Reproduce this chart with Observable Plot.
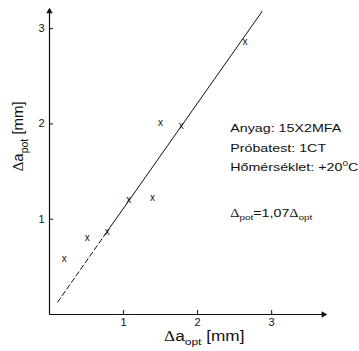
<!DOCTYPE html>
<html>
<head>
<meta charset="utf-8">
<script src="https://cdn.jsdelivr.net/npm/d3@7"></script>
<script src="https://cdn.jsdelivr.net/npm/@observablehq/plot@0.6"></script>
<style>
  html, body { margin: 0; padding: 0; background: white; }
</style>
</head>
<body>
<div id="chart"></div>
<script>
// ---- data ----
const xTicks = [1, 2, 3];
const yTicks = [1, 2, 3];
const aOpt = [0.20, 0.51, 0.78, 1.07, 1.39, 1.50, 1.78, 2.64];   // Δa_opt [mm]
const aPot = [0.58, 0.81, 0.87, 1.20, 1.23, 2.01, 1.98, 2.86];   // Δa_pot [mm]
const fitDashX = [0.11, 0.75];
const fitDashY = [0.13, 0.84];
const fitSolidX = [0.75, 2.87];
const fitSolidY = [0.84, 3.18];
const xMax = 3.7;
const yMax = 3.18;
const xLabel = "Δa_{opt} [mm]";
const yLabel = "Δa_{pot} [mm]";
const infoLines = ["Anyag: 15X2MFA", "Próbatest: 1CT", "Hőmérséklet: +20^{0}C"];
const formula = "Δ_{pot}=1,07Δ_{opt}";

const points = aOpt.map((x, i) => ({x, y: aPot[i]}));
const dash = fitDashX.map((x, i) => ({x, y: fitDashY[i]}));
const solid = fitSolidX.map((x, i) => ({x, y: fitSolidY[i]}));

const W = 359, H = 351, mL = 49, mR = 36, mT = 11, mB = 37;
const pxPerX = (W - mL - mR) / xMax;
const pxPerY = (H - mT - mB) / yMax;
const tickPx = 4;

const chart = Plot.plot({
  width: W,
  height: H,
  marginLeft: mL,
  marginRight: mR,
  marginTop: mT,
  marginBottom: mB,
  style: {fontFamily: "'Liberation Sans', Arial, sans-serif", fontSize: "11px", color: "#111", background: "white"},
  x: {domain: [0, xMax], axis: null},
  y: {domain: [0, yMax], axis: null},
  marks: [
    Plot.ruleY([0], {x1: 0, x2: xMax, stroke: "#111", strokeWidth: 1.2}),
    Plot.ruleX([0], {y1: 0, y2: yMax, stroke: "#111", strokeWidth: 1.2}),
    Plot.ruleX(xTicks, {x: d => d, y1: 0, y2: tickPx / pxPerY, stroke: "#111", strokeWidth: 1}),
    Plot.ruleY(yTicks, {y: d => d, x1: 0, x2: tickPx / pxPerX, stroke: "#111", strokeWidth: 1}),
    Plot.dot([xMax], {x: d => d, y: 0, symbol: "triangle", rotate: 90, r: 2.4, fill: "#111", stroke: null}),
    Plot.dot([yMax], {x: 0, y: d => d, symbol: "triangle", r: 2.4, fill: "#111", stroke: null}),
    Plot.axisX({ticks: xTicks, tickSize: 0, tickPadding: 4, tickFormat: d => d, fontSize: 11, label: null}),
    Plot.axisY({ticks: yTicks, tickSize: 0, tickPadding: 5, tickFormat: d => d, fontSize: 11, label: null}),
    Plot.line(dash, {x: "x", y: "y", stroke: "#111", strokeWidth: 1, strokeDasharray: "5,3"}),
    Plot.line(solid, {x: "x", y: "y", stroke: "#111", strokeWidth: 1}),
    Plot.text(points, {x: "x", y: "y", text: () => "x", fontSize: 10, fill: "#111"}),
    Plot.text([xLabel], {x: 2.09, y: -0.23, fontSize: 14, fill: "#111"}),
    Plot.text([yLabel], {x: -0.42, y: 1.87, rotate: -90, fontSize: 15, fill: "#111"}),
    Plot.text([infoLines.join("\n")], {x: 2.44, y: 1.949, lineAnchor: "top", textAnchor: "start", lineHeight: 1.68, fontSize: 11.6, fill: "#111", dy: -10.6}),
    Plot.text([formula], {x: 2.44, y: 1.067, textAnchor: "start", fontSize: 11.6, fill: "#111"})
  ]
});

document.getElementById("chart").appendChild(chart);

// ---- rich text: subscripts, superscripts, Symbol-like Δ ----
function richify(node, base) {
  const s = node.textContent;
  if (!/[_^]\{|Δ/.test(s)) return;
  while (node.firstChild) node.removeChild(node.firstChild);
  const re = /([_^])\{([^}]*)\}|([^_^]+)/g;
  let m, shift = 0;
  const add = (txt) => {
    const t = document.createElementNS("http://www.w3.org/2000/svg", "tspan");
    t.textContent = txt;
    node.appendChild(t);
    return t;
  };
  while ((m = re.exec(s))) {
    if (m[3] !== undefined) {
      for (const part of m[3].split(/(Δ)/)) {
        if (!part) continue;
        const t = add(part);
        if (part === "Δ") t.setAttribute("font-family", "'Liberation Serif', 'Times New Roman', serif");
        if (shift) { t.setAttribute("dy", -shift); shift = 0; }
      }
    } else {
      const d = m[1] === "_" ? 0.3 * base : -0.4 * base;
      const t = add(m[2]);
      t.setAttribute("font-size", (0.7 * base).toFixed(1));
      t.setAttribute("dy", d - shift);
      shift = d;
    }
  }
}

d3.select(chart).selectAll('g[aria-label="text"] text').each(function() {
  const fs = parseFloat(this.getAttribute("font-size") || this.parentNode.getAttribute("font-size") || 11);
  const lines = this.querySelectorAll("tspan");
  if (lines.length) lines.forEach(l => richify(l, fs));
  else richify(this, fs);
  const tr = this.getAttribute("transform") || "";
  if (!/rotate/.test(tr) && this.textContent !== "x") {
    this.setAttribute("transform", tr + " scale(1.23,1)");
  }
});
</script>
</body>
</html>
